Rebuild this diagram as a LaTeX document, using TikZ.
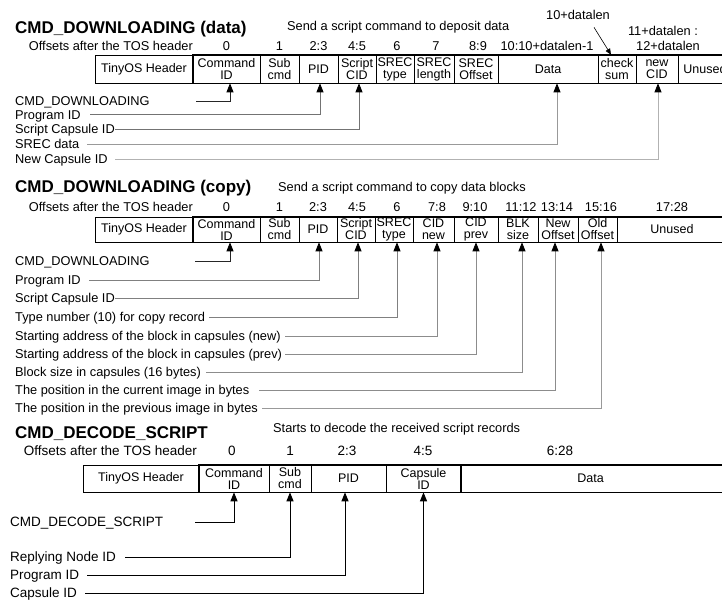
\documentclass[tikz,border=0pt]{standalone}
\usepackage{fontspec}
\setmainfont{Liberation Sans}
\usetikzlibrary{arrows.meta}
\tikzset{
 cell/.style={draw, line width=0.6pt, inner sep=0pt, align=center, font=\fontsize{12.5}{12}\selectfont},
 frame/.style={line width=1.6pt},
 txt/.style={inner sep=0pt, font=\fontsize{12.8}{14}\selectfont},
 bigtxt/.style={inner sep=0pt, font=\fontsize{13.5}{15}\selectfont},
 title/.style={inner sep=0pt, anchor=base west, font=\fontsize{17}{20}\selectfont\bfseries},
 lab/.style={txt, anchor=west, text height=9pt, text depth=0pt},
 lab3/.style={bigtxt, anchor=west, text height=9.5pt, text depth=0pt},
 off/.style={txt, anchor=base},
 conn/.style={line width=0.8pt, -{Triangle[length=9pt,width=7pt,color=black,fill=black]}},
 conn3/.style={line width=1pt, black, -{Triangle[length=9pt,width=7pt,color=black,fill=black]}},
}
\newcommand\mkcell[6]{\node[cell, minimum width={(#3-#2)*1pt}, minimum height={#5*1pt}] (#1) at ({(#2+#3)/2},#4) {#6};}
\begin{document}
\begin{tikzpicture}[x=1pt,y=-1pt]
\useasboundingbox (0,0) rectangle (722,603);
% ================= Section 1 =================
\node[title] (t1) at (15,33) {CMD\_DOWNLOADING (data)};
\node[txt,anchor=base west] (d1) at (287,30) {Send a script command to deposit data};
\node[txt,anchor=base east] (of1) at (193,50) {Offsets after the TOS header};
\node[off] (o1a) at (226.5,50) {0};
\node[off] (o1b) at (279.5,50) {1};
\node[off] (o1c) at (318.5,50) {2:3};
\node[off] (o1d) at (357,50) {4:5};
\node[off] (o1e) at (397,50) {6};
\node[off] (o1f) at (436,50) {7};
\node[off] (o1g) at (478,50) {8:9};
\node[off] (o1h) at (547,50) {10:10+datalen-1};
\node[off] (o1i) at (668,50) {12+datalen};
\node[off] (o1j) at (663,35) {11+datalen :};
\node[off] (o1k) at (578,19) {10+datalen};

\mkcell{c1hdr}{95}{193}{69}{28}{TinyOS Header}
\mkcell{c1cmd}{193}{260}{69}{28}{Command\\ID}
\mkcell{c1sub}{260}{299}{69}{28}{Sub\\cmd}
\mkcell{c1pid}{299}{338}{69}{28}{PID}
\mkcell{c1scid}{338}{376}{69}{28}{Script\\CID}
\mkcell{c1styp}{376}{414}{69}{28}{SREC\\type}
\mkcell{c1slen}{414}{454}{69}{28}{SREC\\length}
\mkcell{c1soff}{454}{498}{69}{28}{SREC\\Offset}
\mkcell{c1data}{498}{598}{69}{28}{Data}
\mkcell{c1chk}{598}{636}{69}{28}{check\\sum}
\mkcell{c1ncid}{636}{678}{69}{28}{new\\CID}
\mkcell{c1unu}{678}{732}{69}{28}{Unused}
\draw[frame] (c1cmd.north west) rectangle (c1unu.south east);

\draw[line width=0.6pt, -{Triangle[length=6pt,width=5pt]}] ([xshift=16pt,yshift=-8pt]o1k.south) -- ([xshift=-6pt]c1chk.north);

\node[lab] (l1a) at (15,101) {CMD\_DOWNLOADING};
\node[lab] (l1b) at (15,114.5) {Program ID};
\node[lab] (l1c) at (15,129) {Script Capsule ID};
\node[lab] (l1d) at (15,144) {SREC data};
\node[lab] (l1e) at (15,159) {New Capsule ID};

\draw[conn, black!85] ([xshift=181pt]l1a.west) -| ([xshift=3.5pt]c1cmd.south);
\draw[conn, black!55] ([xshift=75pt]l1b.west) -| ([xshift=1.5pt]c1pid.south);
\draw[conn, black!55] ([xshift=100pt]l1c.west) -| ([xshift=2pt]c1scid.south);
\draw[conn, black!40] ([xshift=72pt]l1d.west) -| ([xshift=9pt]c1data.south);
\draw[conn, black!30] ([xshift=100pt]l1e.west) -| ([xshift=1pt]c1ncid.south);

% ================= Section 2 =================
\node[title] (t2) at (15,192) {CMD\_DOWNLOADING (copy)};
\node[txt,anchor=base west] (d2) at (278,191) {Send a script command to copy data blocks};
\node[txt,anchor=base east] (of2) at (193,211) {Offsets after the TOS header};
\node[off] (o2a) at (226.5,211) {0};
\node[off] (o2b) at (279.5,211) {1};
\node[off] (o2c) at (318,211) {2:3};
\node[off] (o2d) at (357,211) {4:5};
\node[off] (o2e) at (397,211) {6};
\node[off] (o2f) at (437,211) {7:8};
\node[off] (o2g) at (475,211) {9:10};
\node[off] (o2h) at (521,211) {11:12};
\node[off] (o2i) at (557,211) {13:14};
\node[off] (o2j) at (601,211) {15:16};
\node[off] (o2k) at (672,211) {17:28};

\mkcell{c2hdr}{95}{193}{229.5}{25}{TinyOS Header}
\mkcell{c2cmd}{193}{260}{229.5}{25}{Command\\ID}
\mkcell{c2sub}{260}{299}{229.5}{25}{Sub\\cmd}
\mkcell{c2pid}{299}{337}{229.5}{25}{PID}
\mkcell{c2scid}{337}{375}{229.5}{25}{Script\\CID}
\mkcell{c2styp}{375}{413}{229.5}{25}{SREC\\type}
\mkcell{c2cnew}{413}{454}{229.5}{25}{CID\\new}
\mkcell{c2cprev}{454}{498}{229.5}{25}{CID\\prev}
\mkcell{c2blk}{498}{538}{229.5}{25}{BLK\\size}
\mkcell{c2noff}{538}{578}{229.5}{25}{New\\Offset}
\mkcell{c2ooff}{578}{617}{229.5}{25}{Old\\Offset}
\mkcell{c2unu}{617}{727}{229.5}{25}{Unused}
\draw[frame] (c2cmd.north west) rectangle (c2unu.south east);

\node[lab] (l2a) at (15,261) {CMD\_DOWNLOADING};
\node[lab] (l2b) at (15,280) {Program ID};
\node[lab] (l2c) at (15,298) {Script Capsule ID};
\node[lab] (l2d) at (15,317) {Type number (10) for copy record};
\node[lab] (l2e) at (15,336) {Starting address of the block in capsules (new)};
\node[lab] (l2f) at (15,354) {Starting address of the block in capsules (prev)};
\node[lab] (l2g) at (15,372) {Block size in capsules (16 bytes)};
\node[lab] (l2h) at (15,390) {The position in the current image in bytes};
\node[lab] (l2i) at (15,408) {The position in the previous image in bytes};

\draw[conn, black!85] ([xshift=180pt]l2a.west) -| ([xshift=3.5pt]c2cmd.south);
\draw[conn, black!50] ([xshift=74pt]l2b.west) -| ([xshift=1pt]c2pid.south);
\draw[conn, black!50] ([xshift=100pt]l2c.west) -| ([xshift=2pt]c2scid.south);
\draw[conn, black!50] ([xshift=194pt]l2d.west) -| ([xshift=3pt]c2styp.south);
\draw[conn, black!45] ([xshift=270pt]l2e.west) -| ([xshift=3.5pt]c2cnew.south);
\draw[conn, black!45] ([xshift=270pt]l2f.west) -| (c2cprev.south);
\draw[conn, black!45] ([xshift=191pt]l2g.west) -| ([xshift=4pt]c2blk.south);
\draw[conn, black!45] ([xshift=244pt]l2h.west) -| ([xshift=-3pt]c2noff.south);
\draw[conn, black!40] ([xshift=247pt]l2i.west) -| ([xshift=3.5pt]c2ooff.south);

% ================= Section 3 =================
\node[title] (t3) at (15,438) {CMD\_DECODE\_SCRIPT};
\node[txt,anchor=base west] (d3) at (273,432) {Starts to decode the received script records};
\node[bigtxt,anchor=base east] (of3) at (197,455) {Offsets after the TOS header};
\node[bigtxt,anchor=base] (o3a) at (232,455) {0};
\node[bigtxt,anchor=base] (o3b) at (290,455) {1};
\node[bigtxt,anchor=base] (o3c) at (347,455) {2:3};
\node[bigtxt,anchor=base] (o3d) at (423,455) {4:5};
\node[bigtxt,anchor=base] (o3e) at (560,455) {6:28};

\mkcell{c3hdr}{83}{199}{478.5}{27}{TinyOS Header}
\mkcell{c3cmd}{199}{269}{478.5}{27}{Command\\ID}
\mkcell{c3sub}{269}{311}{478.5}{27}{Sub\\cmd}
\mkcell{c3pid}{311}{386}{478.5}{27}{PID}
\mkcell{c3cap}{386}{461}{478.5}{27}{Capsule\\ID}
\mkcell{c3data}{461}{740}{478.5}{27}{\hspace*{-20pt}Data}
\draw[frame] (c3cmd.north west) rectangle (c3data.south east);
\draw[frame] (c3data.north west) -- (c3data.south west);

\node[lab3] (l3a) at (10,522) {CMD\_DECODE\_SCRIPT};
\node[lab3] (l3b) at (10,557) {Replying Node ID};
\node[lab3] (l3c) at (10,575) {Program ID};
\node[lab3] (l3d) at (10,593) {Capsule ID};

\draw[conn3] ([xshift=185pt]l3a.west) -| (c3cmd.south);
\draw[conn3] ([xshift=115pt]l3b.west) -| (c3sub.south);
\draw[conn3] ([xshift=77pt]l3c.west) -| ([xshift=-3.5pt]c3pid.south);
\draw[conn3] ([xshift=75pt]l3d.west) -| (c3cap.south);
\end{tikzpicture}
\end{document}
